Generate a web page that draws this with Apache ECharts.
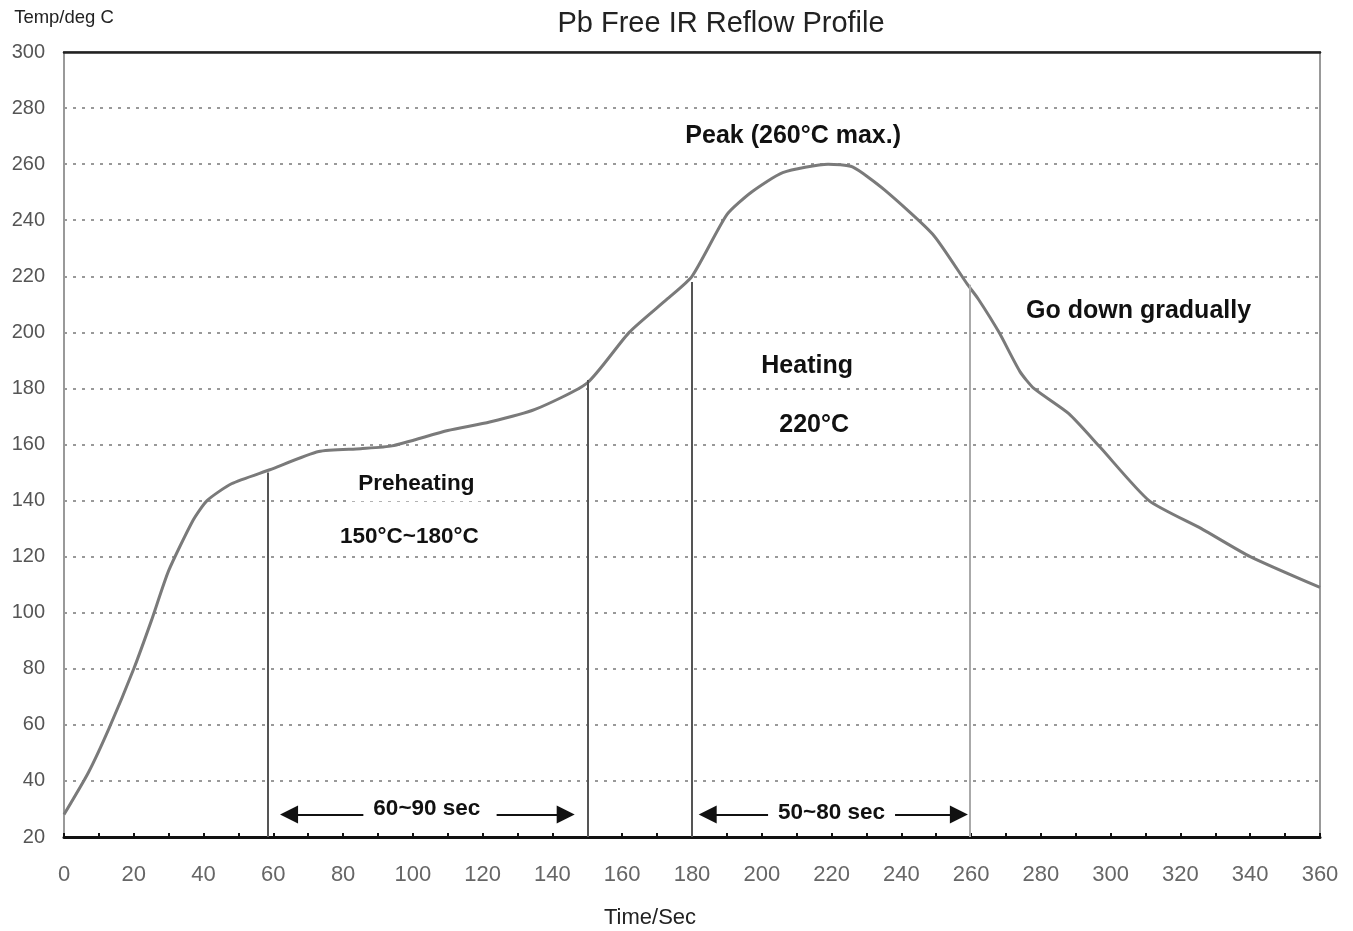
<!DOCTYPE html>
<html>
<head>
<meta charset="utf-8">
<title>Pb Free IR Reflow Profile</title>
<script src="https://cdn.jsdelivr.net/npm/echarts@6/dist/echarts.min.js"></script>
<style>
  html, body { margin: 0; padding: 0; background: #fff; }
  #J_Chart { width: 1353px; height: 931px; }
</style>
</head>
<body>
<div id="J_Chart"></div>
<script>
'use strict';

// profile curve (time in sec, temp in deg C)
const times = [0, 7, 13, 20, 25, 30, 37, 41, 48, 59, 73, 85, 94, 110, 122, 135, 150, 162, 173, 180, 190, 197, 206, 219, 226, 235, 249, 259, 262, 268, 274, 278, 288, 297, 311, 326, 340, 360];
const temps = [28, 43, 59, 80, 97, 115, 133, 140, 146, 151, 157.5, 158.5, 159.5, 165, 168, 172.5, 182, 200, 212, 220, 242, 250, 257, 260, 259, 251, 235, 217, 212, 200, 186, 180, 171, 159, 140, 130, 120, 109];

// vertical zone markers
const markerTimes = [58.5, 150, 180, 259.5];
const markerTops = [150, 183, 218, 217];

// arrow segments at the bottom: [from, to] in sec, arrow head at "to"
const arrowSegs = [[88, 64.5], [124, 143.8], [204, 184.5], [237, 256.5]];
const arrowTemp = 28;

// annotation texts and where they sit (data units)
const noteTexts = ['Peak (260°C max.)', 'Preheating', '150°C~180°C', 'Heating', '220°C', 'Go down gradually', '60~90 sec', '50~80 sec'];
const noteX = [209, 101, 99, 213, 215, 308, 104, 220];
const noteY = [270, 146, 127, 188, 167, 207.5, 30.2, 28.8];
const noteBig = [true, false, false, true, true, true, false, false];

const xTicks = { min: 0, max: 360, interval: 20 };
const yTicks = { min: 20, max: 300, interval: 20 };

const chartDom = document.getElementById('J_Chart');
const myChart = echarts.init(chartDom);

const curve = times.map((t, i) => [t, temps[i]]);

const markerLines = markerTimes.map((t, i) => [
  { coord: [t, yTicks.min], lineStyle: { color: i === 3 ? '#aaa' : '#555', width: 2, type: 'solid' } },
  { coord: [t, markerTops[i]] },
]);

const arrowLines = arrowSegs.map((s) => [
  { coord: [s[0], arrowTemp] },
  { coord: [s[1], arrowTemp] },
]);

const notes = noteTexts.map((txt, i) => ({
  name: txt,
  coord: [noteX[i], noteY[i]],
  value: txt,
  label: { fontSize: noteBig[i] ? 25 : 22.5 },
}));

const option = {
  animation: false,
  textStyle: { fontFamily: 'Liberation Sans, Arial, sans-serif' },
  title: {
    text: 'Pb Free IR Reflow Profile',
    left: 716,
    top: 4,
    textAlign: 'center',
    textStyle: { fontSize: 29, fontWeight: 'normal', color: '#222' },
  },
  grid: {
    left: 64,
    right: 33,
    top: 52,
    bottom: 94,
    outerBoundsMode: 'none',
    show: true,
    borderColor: '#999',
    borderWidth: 2,
  },
  xAxis: [
    {
      type: 'value',
      min: xTicks.min,
      max: xTicks.max,
      interval: xTicks.interval,
      name: 'Time/Sec',
      nameLocation: 'middle',
      nameGap: 70,
      nameTextStyle: { fontSize: 22, color: '#222', padding: [0, 84, 0, 0] },
      axisLine: { show: true, lineStyle: { color: '#111', width: 3 } },
      axisTick: { show: true, inside: true, length: 4, lineStyle: { color: '#111', width: 2 } },
      minorTick: { show: true, splitNumber: 2, length: 4, lineStyle: { color: '#111', width: 2 } },
      axisLabel: { fontSize: 22, color: '#666', margin: 27 },
      splitLine: { show: false },
    },
    {
      type: 'value',
      position: 'top',
      min: xTicks.min,
      max: xTicks.max,
      axisLine: { show: true, lineStyle: { color: '#222', width: 2.5 } },
      axisTick: { show: false },
      axisLabel: { show: false },
      splitLine: { show: false },
    },
  ],
  yAxis: {
    type: 'value',
    min: yTicks.min,
    max: yTicks.max,
    interval: yTicks.interval,
    name: 'Temp/deg C',
    nameLocation: 'end',
    nameGap: 25,
    nameTextStyle: { fontSize: 18.5, color: '#222', align: 'center' },
    axisLine: { show: true, lineStyle: { color: '#999', width: 2 } },
    axisTick: { show: false },
    axisLabel: { fontSize: 20, color: '#555', margin: 19 },
    splitLine: { show: true, lineStyle: { color: '#999', width: 2, type: [3, 6] } },
  },
  series: [
    {
      type: 'line',
      data: curve,
      showSymbol: false,
      smooth: 0.2,
      lineStyle: { color: '#7a7a7a', width: 3 },
      z: 3,
    },
    {
      type: 'line',
      data: [],
      silent: true,
      markLine: {
        silent: true,
        symbol: ['none', 'none'],
        label: { show: false },
        data: markerLines,
      },
    },
    {
      type: 'line',
      data: [],
      silent: true,
      markLine: {
        silent: true,
        symbol: ['none', 'triangle'],
        symbolSize: [18, 18],
        label: { show: false },
        lineStyle: { color: '#111', width: 2, type: 'solid' },
        data: arrowLines,
      },
    },
    {
      type: 'line',
      data: [],
      silent: true,
      markPoint: {
        silent: true,
        symbol: 'rect',
        symbolSize: 0,
        label: {
          show: true,
          position: 'inside',
          formatter: (p) => p.name,
          fontWeight: 'bold',
          color: '#111',
          backgroundColor: '#fff',
          padding: [6, 10],
        },
        data: notes,
      },
      z: 5,
    },
  ],
};

myChart.setOption(option);
</script>
</body>
</html>
